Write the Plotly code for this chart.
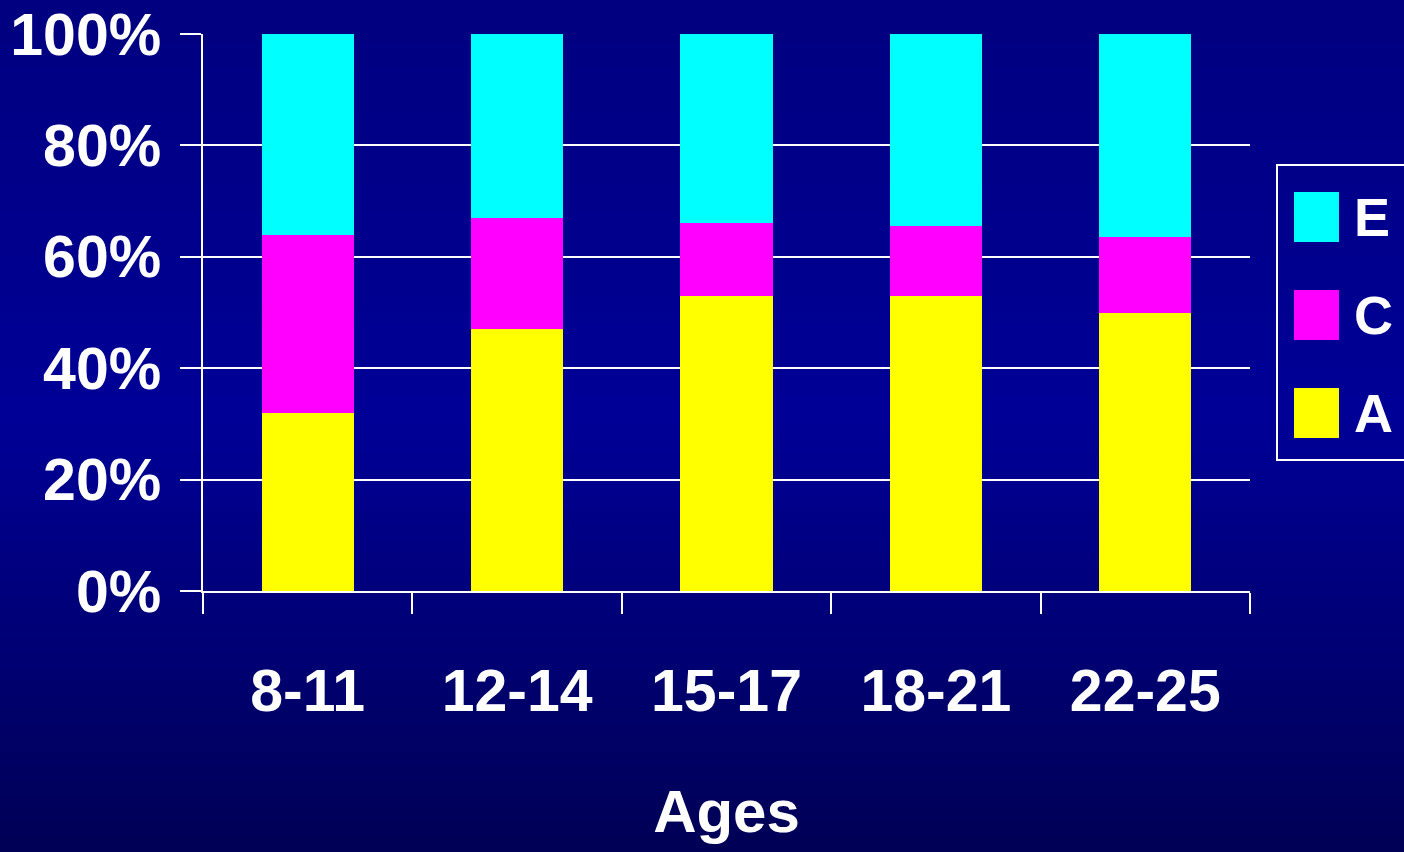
import plotly.graph_objects as go

ages = ["8-11", "12-14", "15-17", "18-21", "22-25"]
series_names = ["A", "C", "E"]
a_vals = [32, 47, 53, 53, 50]
c_vals = [32, 20, 13, 12.5, 13.5]
e_vals = [36, 33, 34, 34.5, 36.5]
colors = {"A": "#FFFF00", "C": "#FF00FF", "E": "#00FFFF"}
y_ticks = [0, 20, 40, 60, 80, 100]

W, H = 1404, 852
L, R, T, B = 203, 1250, 34, 591
FONT = "Liberation Sans, Arial, sans-serif"


def px_x(p):
    return (p - L) / (R - L)


def px_y(p):
    return (B - p) / (B - T)


def bg_color(py):
    # vertical gradient: dark navy top, lighter middle, darker bottom
    stops = [(0, 0x80), (420, 0x97), (852, 0x55)]
    for (y0, c0), (y1, c1) in zip(stops[:-1], stops[1:]):
        if py <= y1:
            f = (py - y0) / (y1 - y0)
            return "rgb(0,0,%d)" % int(c0 + (c1 - c0) * f)
    return "rgb(0,0,%d)" % stops[-1][1]


fig = go.Figure()
for name, vals in zip(series_names, [a_vals, c_vals, e_vals]):
    fig.add_trace(go.Bar(
        x=ages, y=vals, name=name,
        marker=dict(color=colors[name], line=dict(width=0)),
    ))

shapes = []
n = 60
for i in range(n):
    ya, yb = H * i / n, H * (i + 1) / n
    shapes.append(dict(
        type="rect", xref="paper", yref="paper", layer="below",
        x0=px_x(-2), x1=px_x(W + 2), y0=px_y(yb + 1), y1=px_y(ya - 1),
        fillcolor=bg_color((ya + yb) / 2), line=dict(width=0),
    ))

# legend box drawn by hand (large swatches)
shapes.append(dict(
    type="rect", xref="paper", yref="paper",
    x0=px_x(1277), x1=px_x(1420), y0=px_y(460), y1=px_y(165),
    line=dict(color="white", width=2), fillcolor="rgba(0,0,0,0)",
))
annotations = []
for i, name in enumerate(["E", "C", "A"]):
    yc = 217 + i * 98
    shapes.append(dict(
        type="rect", xref="paper", yref="paper",
        x0=px_x(1294), x1=px_x(1339), y0=px_y(yc + 25), y1=px_y(yc - 25),
        fillcolor=colors[name], line=dict(width=0),
    ))
    annotations.append(dict(
        xref="paper", yref="paper", x=px_x(1352), y=px_y(yc),
        xanchor="left", yanchor="middle", text=name, showarrow=False,
        font=dict(family=FONT, size=54, color="white", weight="bold"),
    ))

fig.update_layout(
    width=W, height=H,
    margin=dict(l=L, r=W - R, t=T, b=H - B, autoexpand=False),
    barmode="stack", bargap=0.56,
    showlegend=False,
    paper_bgcolor="#000080", plot_bgcolor="rgba(0,0,0,0)",
    font=dict(family=FONT, color="white", size=59, weight="bold"),
    shapes=shapes, annotations=annotations,
    xaxis=dict(
        automargin=False,
        showline=True, linecolor="white", linewidth=2,
        ticks="outside", tickson="boundaries", ticklen=21,
        tickcolor="white", tickwidth=2,
        showgrid=False, ticklabelstandoff=47,
        tickfont=dict(family=FONT, size=59, color="white", weight="bold"),
        title=dict(text="Ages", standoff=67,
                   font=dict(family=FONT, size=60, color="white", weight="bold")),
    ),
    yaxis=dict(
        automargin=False,
        range=[0, 100], tickmode="array", tickvals=y_ticks,
        ticktext=["%d%%" % v for v in y_ticks],
        showline=True, linecolor="white", linewidth=2,
        showgrid=True, gridcolor="white", gridwidth=2,
        ticks="outside", ticklen=21, tickcolor="white", tickwidth=2,
        ticklabelstandoff=7, zeroline=False,
        tickfont=dict(family=FONT, size=59, color="white", weight="bold"),
    ),
)

fig.write_html(
    "out.html",
    config={"displayModeBar": False},
    post_script="document.body.style.margin='0';document.body.style.overflow='hidden';",
)
